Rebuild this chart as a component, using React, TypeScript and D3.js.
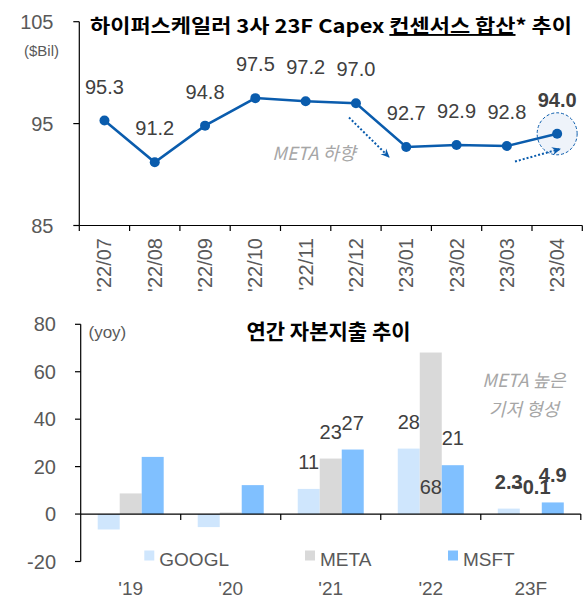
import React, { useEffect, useRef } from 'react';
import * as d3 from 'd3';

// 하이퍼스케일러 3사 Capex 컨센서스 + 연간 자본지출 추이

const months = ["'22/07", "'22/08", "'22/09", "'22/10", "'22/11", "'22/12", "'23/01", "'23/02", "'23/03", "'23/04"];
const capexConsensus = [95.3, 91.2, 94.8, 97.5, 97.2, 97.0, 92.7, 92.9, 92.8, 94.0];
const topTicks = [85, 95, 105];

const years = ["'19", "'20", "'21", "'22", '23F'];
const seriesKeys = ['GOOGL', 'META', 'MSFT'];
const googl = [-6.5, -5.5, 10.6, 27.6, 2.3];
const meta = [8.7, 0.7, 23.4, 68.1, -0.1];
const msft = [24.1, 12.2, 27.2, 20.6, 4.9];
const bottomTicks = [-20, 0, 20, 40, 60, 80];
const labelledYears = ["'21", "'22", '23F'];

const W = 584;
const H = 599;
const FONT = "'Liberation Sans', 'Noto Sans CJK KR', sans-serif";
const KFONT = "'Noto Sans CJK KR', 'Liberation Sans', sans-serif";
const BLUE = '#0a5cad';
const GRAY_TXT = '#595959';
const LABEL_TXT = '#404040';
const colors = { GOOGL: '#cfe6fd', META: '#d9d9d9', MSFT: '#80c0ff' };

const App = () => {
  const ref = useRef(null);

  useEffect(() => {
    const svg = d3.select(ref.current);
    svg.selectAll('*').remove();

    const defs = svg.append('defs');
    defs.append('marker')
      .attr('id', 'arrow')
      .attr('viewBox', '0 0 10 10')
      .attr('refX', 8).attr('refY', 5)
      .attr('markerWidth', 5).attr('markerHeight', 5)
      .attr('orient', 'auto')
      .append('path')
      .attr('d', 'M0,1 L9,5 L0,9 L3,5 Z')
      .attr('fill', BLUE);

    drawTop(svg);
    drawBottom(svg);
  });

  const drawTop = (svg) => {
    const x = d3.scaleBand().domain(months).range([79.3, 582.3]);
    const y = d3.scaleLinear().domain([85, 105]).range([225.5, 21.7]);
    const cx = (m) => x(m) + x.bandwidth() / 2;

    const g = svg.append('g');

    // title
    const title = g.append('text')
      .attr('x', 90).attr('y', 33)
      .attr('font-family', KFONT).attr('font-weight', 700)
      .attr('font-size', 19).attr('fill', '#000')
      .attr('textLength', 482).attr('lengthAdjust', 'spacingAndGlyphs');
    title.append('tspan').text('하이퍼스케일러 3사 23F Capex ');
    title.append('tspan').attr('text-decoration', 'underline').text('컨센서스 합산');
    title.append('tspan').text('* 추이');

    g.append('text')
      .attr('x', 59).attr('y', 56)
      .attr('text-anchor', 'end')
      .attr('font-family', FONT).attr('font-size', 15).attr('fill', GRAY_TXT)
      .text('($Bil)');

    // axes
    g.append('line')
      .attr('x1', 79.3).attr('x2', 79.3).attr('y1', y(105)).attr('y2', y(85))
      .attr('stroke', '#000').attr('stroke-width', 1.2);
    g.append('line')
      .attr('x1', 79.3).attr('x2', 582.3).attr('y1', y(85)).attr('y2', y(85))
      .attr('stroke', '#000').attr('stroke-width', 1.2);

    g.selectAll('.ytick')
      .data(topTicks)
      .join('line')
      .attr('x1', 73.3).attr('x2', 79.3)
      .attr('y1', d => y(d)).attr('y2', d => y(d))
      .attr('stroke', '#000').attr('stroke-width', 1.2);
    g.selectAll('.ylab')
      .data(topTicks)
      .join('text')
      .attr('x', 53.5).attr('y', d => y(d) + 7)
      .attr('text-anchor', 'end')
      .attr('font-family', FONT).attr('font-size', 20).attr('fill', GRAY_TXT)
      .text(d => d);

    const edges = months.map(m => x(m)).concat([x.range()[1]]);
    g.selectAll('.xtick')
      .data(edges)
      .join('line')
      .attr('x1', d => d).attr('x2', d => d)
      .attr('y1', y(85)).attr('y2', y(85) + 5.5)
      .attr('stroke', '#000').attr('stroke-width', 1.2);
    g.selectAll('.xlab')
      .data(months)
      .join('text')
      .attr('transform', d => `translate(${cx(d)}, 238) rotate(-90)`)
      .attr('text-anchor', 'end')
      .attr('dominant-baseline', 'central')
      .attr('font-family', FONT).attr('font-size', 20).attr('fill', GRAY_TXT)
      .text(d => d);

    // highlight around last point
    const last = months.length - 1;
    g.append('ellipse')
      .attr('cx', cx(months[last])).attr('cy', y(capexConsensus[last]))
      .attr('rx', 20).attr('ry', 21)
      .attr('fill', '#eef3fa')
      .attr('stroke', BLUE).attr('stroke-width', 1)
      .attr('stroke-dasharray', '3,2');

    const line = d3.line()
      .x((d, i) => cx(months[i]))
      .y(d => y(d));
    g.append('path')
      .datum(capexConsensus)
      .attr('d', line)
      .attr('fill', 'none')
      .attr('stroke', BLUE).attr('stroke-width', 2.5);

    g.selectAll('.pt')
      .data(capexConsensus)
      .join('circle')
      .attr('cx', (d, i) => cx(months[i]))
      .attr('cy', d => y(d))
      .attr('r', 5)
      .attr('fill', BLUE);

    g.selectAll('.vlab')
      .data(capexConsensus)
      .join('text')
      .attr('x', (d, i) => cx(months[i]))
      .attr('y', d => y(d) - 27)
      .attr('text-anchor', 'middle')
      .attr('font-family', FONT).attr('font-size', 20)
      .attr('font-weight', (d, i) => (i === last ? 700 : 400))
      .attr('fill', LABEL_TXT)
      .text(d => d3.format('.1f')(d));

    // annotations
    g.append('text')
      .attr('x', 314).attr('y', 160)
      .attr('text-anchor', 'middle')
      .attr('font-family', KFONT).attr('font-size', 18).attr('font-style', 'italic')
      .attr('fill', '#a6a6a6')
      .text('META 하향');

    const arrows = [
      [[349, 117.5], [389, 157]],
      [[515, 161.5], [560, 149]],
    ];
    g.selectAll('.arrow')
      .data(arrows)
      .join('line')
      .attr('x1', d => d[0][0]).attr('y1', d => d[0][1])
      .attr('x2', d => d[1][0]).attr('y2', d => d[1][1])
      .attr('stroke', BLUE).attr('stroke-width', 2)
      .attr('stroke-dasharray', '2,2')
      .attr('marker-end', 'url(#arrow)');
  };

  const drawBottom = (svg) => {
    const x0 = d3.scaleBand().domain(years).range([80.7, 580.8]);
    const x1 = d3.scaleBand().domain(seriesKeys).range([17, 83]);
    const y = d3.scaleLinear().domain([-20, 80]).range([561.5, 324.3]);

    const rows = years.map((yr, i) => ({ year: yr, GOOGL: googl[i], META: meta[i], MSFT: msft[i] }));
    const g = svg.append('g');

    g.append('text')
      .attr('x', 328.5).attr('y', 339)
      .attr('text-anchor', 'middle')
      .attr('font-family', KFONT).attr('font-weight', 700)
      .attr('font-size', 21).attr('fill', '#000')
      .text('연간 자본지출 추이');

    g.append('text')
      .attr('x', 88.5).attr('y', 338)
      .attr('font-family', FONT).attr('font-size', 17).attr('fill', GRAY_TXT)
      .text('(yoy)');

    // bars
    const bars = rows.flatMap(r => seriesKeys.map(k => ({ year: r.year, key: k, value: r[k] })));
    g.selectAll('.bar')
      .data(bars)
      .join('rect')
      .attr('x', d => x0(d.year) + x1(d.key))
      .attr('width', x1.bandwidth())
      .attr('y', d => y(Math.max(0, d.value)))
      .attr('height', d => Math.abs(y(d.value) - y(0)))
      .attr('fill', d => colors[d.key]);

    // axes
    g.append('line')
      .attr('x1', 80.7).attr('x2', 80.7).attr('y1', y(80)).attr('y2', y(-20))
      .attr('stroke', '#000').attr('stroke-width', 1.2);
    g.append('line')
      .attr('x1', 80.7).attr('x2', 580.8).attr('y1', y(0)).attr('y2', y(0))
      .attr('stroke', '#000').attr('stroke-width', 1.2);
    g.selectAll('.ytick')
      .data(bottomTicks)
      .join('line')
      .attr('x1', 75).attr('x2', 80.7)
      .attr('y1', d => y(d)).attr('y2', d => y(d))
      .attr('stroke', '#000').attr('stroke-width', 1.2);
    g.selectAll('.ylab')
      .data(bottomTicks)
      .join('text')
      .attr('x', 56).attr('y', d => y(d) + 7)
      .attr('text-anchor', 'end')
      .attr('font-family', FONT).attr('font-size', 20).attr('fill', GRAY_TXT)
      .text(d => d);
    g.selectAll('.xtick')
      .data(years.slice(1).map(yr => x0(yr)).concat([x0.range()[1]]))
      .join('line')
      .attr('x1', d => d).attr('x2', d => d)
      .attr('y1', y(0)).attr('y2', y(0) + 6)
      .attr('stroke', '#000').attr('stroke-width', 1.2);
    g.selectAll('.xlab')
      .data(years)
      .join('text')
      .attr('x', d => x0(d) + x0.bandwidth() / 2)
      .attr('y', 595)
      .attr('text-anchor', 'middle')
      .attr('font-family', FONT).attr('font-size', 19).attr('fill', GRAY_TXT)
      .text(d => d);

    // value labels ('68' sits inside the bar near the base)
    const labelled = bars.filter(d => labelledYears.includes(d.year));
    g.selectAll('.blab')
      .data(labelled)
      .join('text')
      .attr('x', d => x0(d.year) + x1(d.key) + x1.bandwidth() / 2)
      .attr('y', d => {
        const anchor = d.value > 60 ? 0 : Math.max(0, d.value);
        return y(anchor) - 20;
      })
      .attr('text-anchor', 'middle')
      .attr('font-family', FONT).attr('font-size', 20)
      .attr('font-weight', d => (d.year === '23F' ? 700 : 400))
      .attr('fill', LABEL_TXT)
      .text(d => (d.year === '23F' ? d3.format('.1f')(d.value) : d3.format('.0f')(d.value)));

    // legend
    const legendX = { GOOGL: 144.3, META: 305, MSFT: 448 };
    const lg = g.selectAll('.legend')
      .data(seriesKeys)
      .join('g')
      .attr('transform', d => `translate(${legendX[d]}, 550.5)`);
    lg.append('rect')
      .attr('width', 10).attr('height', 10)
      .attr('fill', d => colors[d]);
    lg.append('text')
      .attr('x', 15).attr('y', 15.5)
      .attr('font-family', FONT).attr('font-size', 19).attr('fill', GRAY_TXT)
      .text(d => d);

    // note
    g.selectAll('.note')
      .data(['META 높은', '기저 형성'])
      .join('text')
      .attr('x', 524).attr('y', (d, i) => 387 + i * 29)
      .attr('text-anchor', 'middle')
      .attr('font-family', KFONT).attr('font-size', 18).attr('font-style', 'italic')
      .attr('fill', '#a6a6a6')
      .text(d => d);
  };

  return (
    <svg
      ref={ref}
      width={W}
      height={H}
      viewBox={`0 0 ${W} ${H}`}
      style={{ position: 'absolute', left: 0, top: 0, background: '#fff' }}
    />
  );
};

export default App;
